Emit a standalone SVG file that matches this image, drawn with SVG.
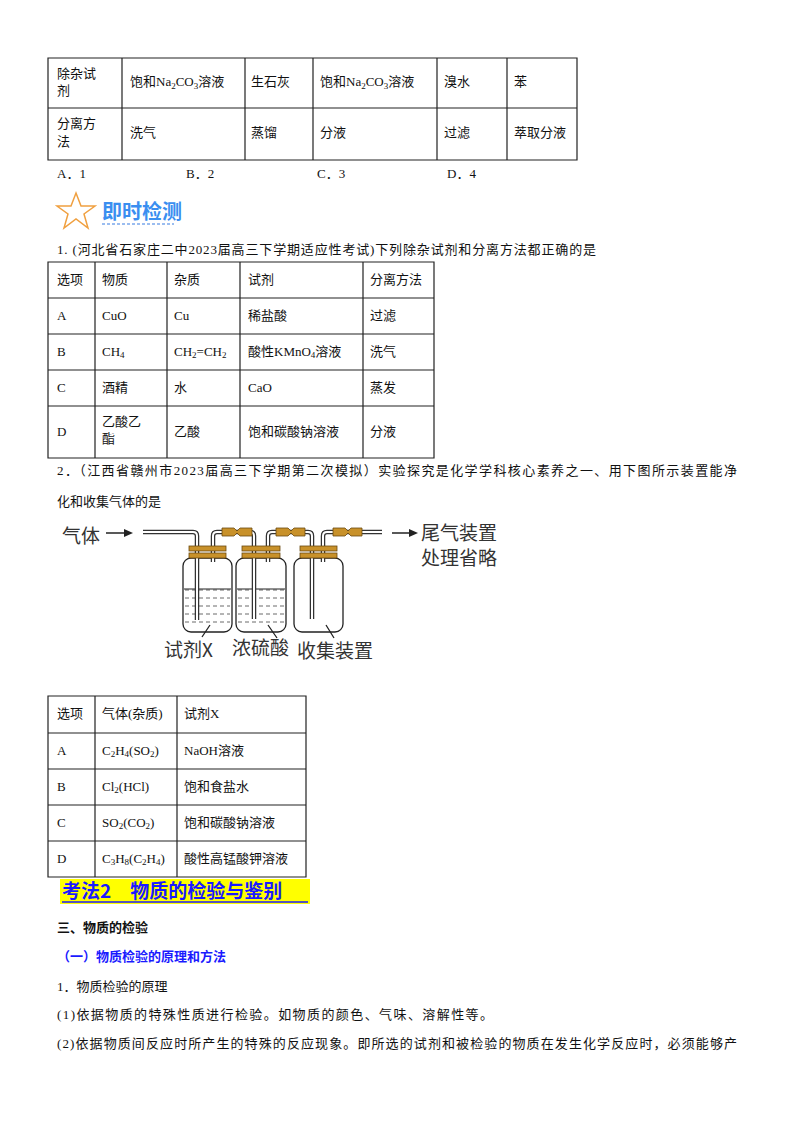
<svg xmlns="http://www.w3.org/2000/svg" width="800" height="1132" viewBox="0 0 800 1132">
<style>
text{font-family:"Liberation Serif","Noto Sans CJK SC",serif;font-size:13px;fill:#111}
.g{stroke:#222;stroke-width:1.2;fill:none}
.big{font-size:19px;font-family:"Noto Sans CJK SC",sans-serif;fill:#333}
.b{font-weight:bold}
.bl{fill:#1a1aff}
.tube{stroke:#333;stroke-width:4.5;fill:none;stroke-linejoin:round}
.tubei{stroke:#fff;stroke-width:2;fill:none;stroke-linejoin:round}
.bot{fill:#fff;stroke:#222;stroke-width:1.3}
.stop{fill:#c8912a;stroke:#6b4a10;stroke-width:0.8}
.liq{stroke:#444;stroke-width:0.8;stroke-dasharray:4 3}
</style>
<rect width="800" height="1132" fill="#fff"/>
<g id="table1">
<path class="g" d="M48 58H577V160H48Z M48 108H577 M122 58V160 M245 58V160 M313 58V160 M437 58V160 M507 58V160"/>
<text x="57" y="78">除杂试</text><text x="57" y="95">剂</text>
<text x="130" y="86">饱和Na<tspan font-size="9" dy="3">2</tspan><tspan dy="-3">CO</tspan><tspan font-size="9" dy="3">3</tspan><tspan dy="-3">溶液</tspan></text>
<text x="251" y="86">生石灰</text>
<text x="320" y="86">饱和Na<tspan font-size="9" dy="3">2</tspan><tspan dy="-3">CO</tspan><tspan font-size="9" dy="3">3</tspan><tspan dy="-3">溶液</tspan></text>
<text x="444" y="86">溴水</text><text x="514" y="86">苯</text>
<text x="57" y="128">分离方</text><text x="57" y="146">法</text>
<text x="130" y="137">洗气</text><text x="251" y="137">蒸馏</text><text x="320" y="137">分液</text><text x="444" y="137">过滤</text><text x="514" y="137">萃取分液</text>
</g>
<text x="57" y="178">A．1</text><text x="186" y="178">B．2</text><text x="317" y="178">C．3</text><text x="447" y="178">D．4</text>
<g id="header">
<polygon points="76,193 81,206 95,206 84,214 88,228 76,219 64,228 68,214 57,206 71,206" fill="none" stroke="#f0a040" stroke-width="1.5"/>
<text x="102" y="219" style="fill:#3a8ef0;font-size:20px;font-weight:bold;font-family:'Noto Sans CJK SC',sans-serif">即时检测</text>
<line x1="102" y1="224" x2="174" y2="224" stroke="#9bbdf0" stroke-width="2" stroke-dasharray="3 2"/>
</g>
<text x="57" y="254" textLength="539" lengthAdjust="spacing">1. (河北省石家庄二中2023届高三下学期适应性考试)下列除杂试剂和分离方法都正确的是</text>
<g id="table2">
<path class="g" d="M48 262H434V458H48Z M48 298H434 M48 334H434 M48 370H434 M48 406H434 M95 262V458 M167 262V458 M240 262V458 M363 262V458"/>
<text x="57" y="284">选项</text><text x="102" y="284">物质</text><text x="174" y="284">杂质</text><text x="248" y="284">试剂</text><text x="370" y="284">分离方法</text>
<text x="57" y="320">A</text><text x="102" y="320">CuO</text><text x="174" y="320">Cu</text><text x="248" y="320">稀盐酸</text><text x="370" y="320">过滤</text>
<text x="57" y="356">B</text><text x="102" y="356">CH<tspan font-size="9" dy="2">4</tspan></text><text x="174" y="356">CH<tspan font-size="9" dy="2">2</tspan><tspan dy="-2">=CH</tspan><tspan font-size="9" dy="2">2</tspan></text><text x="248" y="356">酸性KMnO<tspan font-size="9" dy="2">4</tspan><tspan dy="-2">溶液</tspan></text><text x="370" y="356">洗气</text>
<text x="57" y="392">C</text><text x="102" y="392">酒精</text><text x="174" y="392">水</text><text x="248" y="392">CaO</text><text x="370" y="392">蒸发</text>
<text x="57" y="436">D</text><text x="102" y="426">乙酸乙</text><text x="102" y="443">酯</text><text x="174" y="436">乙酸</text><text x="248" y="436">饱和碳酸钠溶液</text><text x="370" y="436">分液</text>
</g>
<text x="57" y="475" textLength="680" lengthAdjust="spacing">2．（江西省赣州市2023届高三下学期第二次模拟）实验探究是化学学科核心素养之一、用下图所示装置能净</text>
<text x="57" y="506">化和收集气体的是</text>
<g id="apparatus">
<text class="big" x="62" y="543">气体</text>
<line x1="106" y1="533" x2="128" y2="533" stroke="#222" stroke-width="1.5"/><path d="M124 529L133 533L124 537Z" fill="#222"/>
<rect class="bot" x="183" y="558" width="49" height="74" rx="8"/>
<rect class="bot" x="236" y="558" width="50" height="74" rx="8"/>
<rect class="bot" x="294" y="558" width="49" height="74" rx="8"/>
<g class="liq"><path d="M185 590H230M185 598H230M185 606H230M185 614H230M185 622H230M238 590H284M238 598H284M238 606H284M238 614H284M238 622H284"/></g>
<line x1="184" y1="589" x2="231" y2="589" stroke="#222"/><line x1="237" y1="589" x2="285" y2="589" stroke="#222"/>
<path class="tube" d="M143 532H193Q197 532 197 536V620"/>
<path class="tubei" d="M143 532H193Q197 532 197 536V620"/>
<path class="tube" d="M213 562V536Q213 532 217 532H250Q254 532 254 536V619"/>
<path class="tubei" d="M213 562V536Q213 532 217 532H250Q254 532 254 536V619"/>
<path class="tube" d="M268 562V536Q268 532 272 532H308Q312 532 312 536V619"/>
<path class="tubei" d="M268 562V536Q268 532 272 532H308Q312 532 312 536V619"/>
<path class="tube" d="M323 562V536Q323 532 327 532H382"/>
<path class="tubei" d="M323 562V536Q323 532 327 532H382"/>
<g class="stop">
<rect x="189" y="546" width="37" height="5"/><rect x="189" y="553" width="37" height="5"/>
<rect x="242" y="546" width="38" height="5"/><rect x="242" y="553" width="38" height="5"/>
<rect x="300" y="546" width="37" height="5"/><rect x="300" y="553" width="37" height="5"/>
<path d="M222 528H234L237 531L240 528H252V536H240L237 533L234 536H222Z"/>
<path d="M276 528H288L291 531L294 528H305V536H294L291 533L288 536H276Z"/>
<path d="M333 528H345L348 531L351 528H362V536H351L348 533L345 536H333Z"/>
</g>
<line x1="392" y1="533" x2="413" y2="533" stroke="#222" stroke-width="1.5"/><path d="M409 529L418 533L409 537Z" fill="#222"/>
<text class="big" x="421" y="540">尾气装置</text>
<text class="big" x="421" y="565">处理省略</text>
<path d="M210 625L202 637M268 625L277 638M326 625L334 638" stroke="#222" stroke-width="1.3"/>
<text class="big" x="164" y="657">试剂X</text>
<text class="big" x="232" y="655">浓硫酸</text>
<text class="big" x="297" y="658">收集装置</text>
</g>
<g id="table3">
<path class="g" d="M48 696H306V877H48Z M48 733H306 M48 769H306 M48 805H306 M48 841H306 M95 696V877 M177 696V877"/>
<text x="57" y="718">选项</text><text x="102" y="718">气体(杂质)</text><text x="184" y="718">试剂X</text>
<text x="57" y="755">A</text><text x="102" y="755">C<tspan font-size="9" dy="2">2</tspan><tspan dy="-2">H</tspan><tspan font-size="9" dy="2">4</tspan><tspan dy="-2">(SO</tspan><tspan font-size="9" dy="2">2</tspan><tspan dy="-2">)</tspan></text><text x="184" y="755">NaOH溶液</text>
<text x="57" y="791">B</text><text x="102" y="791">Cl<tspan font-size="9" dy="2">2</tspan><tspan dy="-2">(HCl)</tspan></text><text x="184" y="791">饱和食盐水</text>
<text x="57" y="827">C</text><text x="102" y="827">SO<tspan font-size="9" dy="2">2</tspan><tspan dy="-2">(CO</tspan><tspan font-size="9" dy="2">2</tspan><tspan dy="-2">)</tspan></text><text x="184" y="827">饱和碳酸钠溶液</text>
<text x="57" y="863">D</text><text x="102" y="863">C<tspan font-size="9" dy="2">3</tspan><tspan dy="-2">H</tspan><tspan font-size="9" dy="2">8</tspan><tspan dy="-2">(C</tspan><tspan font-size="9" dy="2">2</tspan><tspan dy="-2">H</tspan><tspan font-size="9" dy="2">4</tspan><tspan dy="-2">)</tspan></text><text x="184" y="863">酸性高锰酸钾溶液</text>
</g>
<rect x="60" y="879" width="250" height="25" fill="#ffff00"/>
<text x="62" y="898" class="b bl" style="font-size:19px;font-family:'Noto Sans CJK SC',sans-serif">考法2　物质的检验与鉴别</text>
<line x1="62" y1="902" x2="308" y2="902" stroke="#1a1aff" stroke-width="1.3"/>
<text x="57" y="932" class="b" style="font-family:'Noto Sans CJK SC',sans-serif">三、物质的检验</text>
<text x="57" y="961" class="b bl" style="font-family:'Noto Sans CJK SC',sans-serif">（一）物质检验的原理和方法</text>
<text x="57" y="991">1．物质检验的原理</text>
<text x="57" y="1019" textLength="436" lengthAdjust="spacing">(1)依据物质的特殊性质进行检验。如物质的颜色、气味、溶解性等。</text>
<text x="57" y="1048" textLength="680" lengthAdjust="spacing">(2)依据物质间反应时所产生的特殊的反应现象。即所选的试剂和被检验的物质在发生化学反应时，必须能够产</text>
</svg>
